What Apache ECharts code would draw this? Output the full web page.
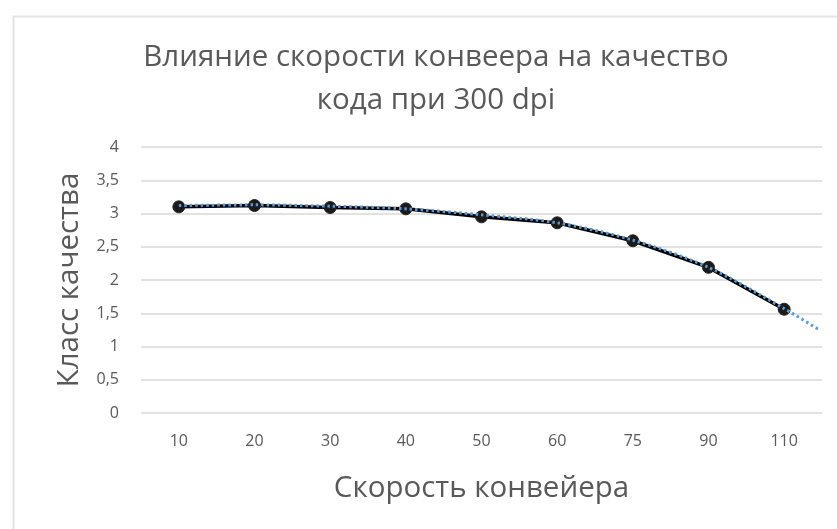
<!DOCTYPE html>
<html>
<head>
<meta charset="utf-8">
<script src="https://cdn.jsdelivr.net/npm/echarts@6/dist/echarts.min.js"></script>
<style>
  html, body { margin: 0; padding: 0; background: #ffffff; }
  #chart { width: 837px; height: 529px; }
</style>
</head>
<body>
<div id="chart"></div>
<script>
// Conveyor speed (categories) and measured code quality grade
const speeds = ['10', '20', '30', '40', '50', '60', '75', '90', '110'];
const quality = [3.1, 3.12, 3.09, 3.07, 2.95, 2.86, 2.59, 2.19, 1.56];

// Polynomial trendline: category index -> fitted value (runs a little past the last point)
const trendIndex = [0, 1, 2, 3, 4, 5, 6, 7, 8, 8.45];
const trendValue = [3.12, 3.13, 3.11, 3.07, 2.98, 2.86, 2.6, 2.19, 1.57, 1.26];

const yTicks = [0, 0.5, 1, 1.5, 2, 2.5, 3, 3.5, 4];

const FONT = '"Open Sans", "Noto Sans", sans-serif';
const TEXT = '#595959';

const chart = echarts.init(document.getElementById('chart'), null, { renderer: 'canvas' });

chart.setOption({
  animation: false,
  backgroundColor: '#ffffff',
  graphic: [{
    type: 'rect',
    left: 11, top: 14,
    shape: { width: 900, height: 600 },
    style: { fill: 'none', stroke: '#e3e3e3', lineWidth: 2 },
    silent: true
  }],
  title: {
    text: 'Влияние скорости конвеера на качество\nкода при 300 dpi',
    left: 431, top: 31, textAlign: 'center',
    textStyle: { fontFamily: FONT, fontSize: 29.5, fontWeight: 'normal', color: TEXT, lineHeight: 43 }
  },
  grid: { left: 141, right: 15, top: 147, bottom: 116, containLabel: false },
  xAxis: [{
    type: 'category',
    data: speeds,
    boundaryGap: true,
    axisLine: { show: false },
    axisTick: { show: false },
    axisLabel: { fontFamily: FONT, fontSize: 16, color: TEXT, margin: 20 },
    name: 'Скорость конвейера',
    nameLocation: 'middle',
    nameGap: 61,
    nameTextStyle: { fontFamily: FONT, fontSize: 29.5, color: TEXT }
  }, {
    type: 'value',
    min: -0.5, max: 8.5,
    show: false
  }],
  yAxis: {
    type: 'value',
    min: yTicks[0], max: yTicks[yTicks.length - 1], interval: 0.5,
    axisLine: { show: false },
    axisTick: { show: false },
    splitLine: { lineStyle: { color: '#d9d9d9', width: 1.5 } },
    axisLabel: {
      fontFamily: FONT, fontSize: 16, color: TEXT, margin: 22,
      formatter: v => String(v).replace('.', ',')
    },
    name: 'Класс качества',
    nameLocation: 'middle',
    nameGap: 56,
    nameRotate: 90,
    nameTextStyle: { fontFamily: FONT, fontSize: 29.5, color: TEXT }
  },
  series: [{
    name: 'Класс качества',
    type: 'line',
    data: quality,
    xAxisIndex: 0,
    symbol: 'circle',
    symbolSize: 12,
    itemStyle: { color: '#1a1a1a', borderColor: '#262626', borderWidth: 1 },
    lineStyle: { color: '#000000', width: 3.5 },
    z: 2
  }, {
    name: 'Тренд',
    type: 'line',
    xAxisIndex: 1,
    data: trendIndex.map((x, i) => [x, trendValue[i]]),
    symbol: 'none',
    smooth: 0.3,
    lineStyle: { color: '#5b9bd5', width: 3, type: [2.5, 3] },
    z: 3
  }]
});
</script>
</body>
</html>
